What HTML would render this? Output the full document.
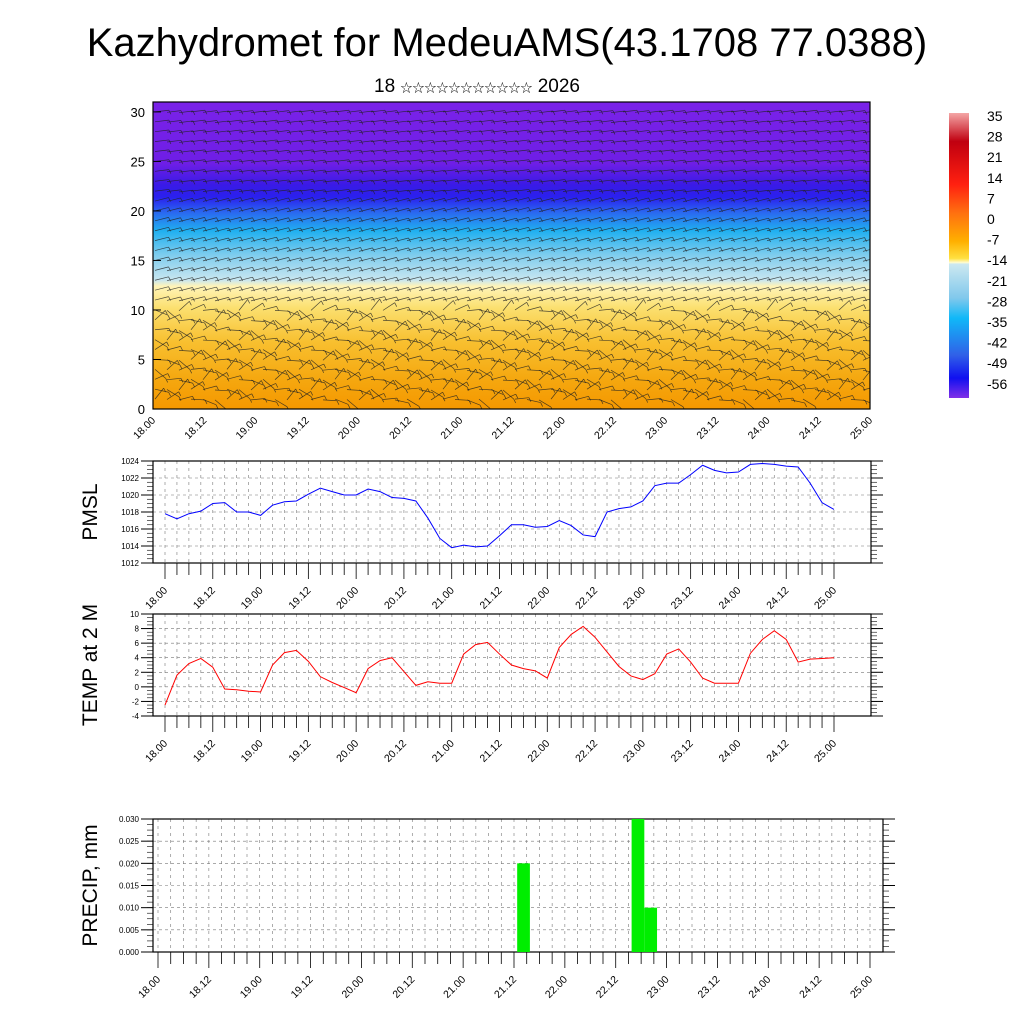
<!DOCTYPE html>
<html><head><meta charset="utf-8"><style>
html,body{margin:0;padding:0;background:#fff}
svg{display:block;font-family:"Liberation Sans","Noto Sans CJK SC",sans-serif}
</style></head><body>
<svg id="s" width="1024" height="1024" viewBox="0 0 1024 1024" xmlns="http://www.w3.org/2000/svg">
<defs>
<clipPath id="tc"><rect x="153" y="102" width="717" height="307"/></clipPath>
<linearGradient id="tg" x1="0" y1="0" x2="0" y2="1">
<stop offset="0" stop-color="#7a22e8"/><stop offset="0.2" stop-color="#6e1ee6"/>
<stop offset="0.27" stop-color="#3a1ae6"/><stop offset="0.31" stop-color="#2a20ee"/>
<stop offset="0.36" stop-color="#2a68f0"/><stop offset="0.42" stop-color="#20b0f0"/>
<stop offset="0.50" stop-color="#80cdee"/><stop offset="0.58" stop-color="#c8e6f0"/>
<stop offset="0.60" stop-color="#fff4b8"/><stop offset="0.67" stop-color="#fbe070"/>
<stop offset="0.78" stop-color="#f8c030"/><stop offset="0.9" stop-color="#f5a810"/>
<stop offset="1" stop-color="#f59800"/>
</linearGradient>
<linearGradient id="cb" x1="0" y1="0" x2="0" y2="1">
<stop offset="0" stop-color="#f4a6a6"/><stop offset="0.1" stop-color="#c00010"/>
<stop offset="0.25" stop-color="#ff2010"/><stop offset="0.35" stop-color="#ff7010"/>
<stop offset="0.45" stop-color="#ffb000"/><stop offset="0.51" stop-color="#ffe040"/>
<stop offset="0.525" stop-color="#fffcd0"/><stop offset="0.53" stop-color="#cce8f0"/>
<stop offset="0.65" stop-color="#80c8ec"/><stop offset="0.72" stop-color="#10b8f8"/>
<stop offset="0.85" stop-color="#3060e8"/><stop offset="0.93" stop-color="#1010f0"/>
<stop offset="1" stop-color="#8030e8"/>
</linearGradient>
</defs>
<text x="507" y="56" font-size="40" text-anchor="middle">Kazhydromet for MedeuAMS(43.1708 77.0388)</text>
<text x="477" y="92" font-size="19" text-anchor="middle">18 <tspan font-size="12">☆☆☆☆☆☆☆☆☆☆☆</tspan> 2026</text>
<g id="g"></g>
</svg>
<script>
const times=['18.00','18.12','19.00','19.12','20.00','20.12','21.00','21.12','22.00','22.12','23.00','23.12','24.00','24.12','25.00'];
const pmsl=[1017.8,1017.2,1017.8,1018.1,1019.0,1019.1,1018.0,1018.0,1017.6,1018.8,1019.2,1019.3,1020.1,1020.8,1020.4,1020.0,1020.0,1020.7,1020.4,1019.7,1019.6,1019.3,1017.3,1014.9,1013.8,1014.1,1013.9,1014.0,1015.2,1016.5,1016.5,1016.2,1016.3,1017.0,1016.4,1015.3,1015.1,1018.0,1018.4,1018.6,1019.3,1021.1,1021.4,1021.4,1022.4,1023.5,1022.9,1022.6,1022.7,1023.6,1023.7,1023.6,1023.4,1023.3,1021.4,1019.1,1018.3];
const temp=[-2.5,1.6,3.2,3.9,2.7,-0.3,-0.4,-0.6,-0.7,3.0,4.7,5.0,3.5,1.4,0.6,-0.1,-0.8,2.5,3.6,4.0,2.1,0.2,0.7,0.5,0.5,4.5,5.8,6.1,4.5,3.0,2.5,2.2,1.2,5.4,7.2,8.3,6.8,4.8,2.8,1.5,1.0,1.8,4.5,5.2,3.4,1.2,0.5,0.5,0.5,4.6,6.5,7.7,6.5,3.4,3.8,3.9,4.0];
const precipIdx=[29,38,39];
const precipVal=[0.02,0.03,0.01];
const pmslTicks=[1012,1014,1016,1018,1020,1022,1024];
const tempTicks=[-4,-2,0,2,4,6,8,10];
const precipTicks=[0,0.005,0.01,0.015,0.02,0.025,0.03];
const heightTicks=[0,5,10,15,20,25,30];
const cbLabels=['35','28','21','14','7','0','-7','-14','-21','-28','-35','-42','-49','-56'];

const NS='http://www.w3.org/2000/svg';
const G=document.getElementById('g');
function el(t,a,p){const e=document.createElementNS(NS,t);for(const k in a)e.setAttribute(k,a[k]);(p||G).appendChild(e);return e;}

const T={x0:153,x1:870,y0:102,y1:409,vmax:31};
const ty=v=>T.y1-(v/T.vmax)*(T.y1-T.y0);
const tx=i=>T.x0+i*(T.x1-T.x0)/56;
let bg=el('rect',{x:T.x0,y:T.y0,width:T.x1-T.x0,height:T.y1-T.y0,fill:'url(#tg)'});


const bw=el('g',{stroke:'#222','stroke-width':0.7,'stroke-opacity':0.8,fill:'none','clip-path':'url(#tc)'});


for(let r=0;r<30;r++){for(let c=0;c<60;c++){
  const x=T.x0+2+c*12,y=ty(r+1)+((c*7)%3)*0.4;
  const a=r>=21?-0.12:(r<10?-0.9+((c*13+r*7)%11)*0.16:-0.25);
  const dx=Math.cos(a)*14,dy=Math.sin(a)*14;
  el('line',{x1:x,y1:y,x2:x+dx,y2:y+dy},bw);
  el('line',{x1:x+dx,y1:y+dy,x2:x+dx+2,y2:y+dy+4},bw);
}}
let f=el('rect',{x:T.x0,y:T.y0,width:T.x1-T.x0,height:T.y1-T.y0,fill:'none',stroke:'#000','stroke-width':1.2});


heightTicks.forEach(v=>{
  el('line',{x1:T.x0,y1:ty(v),x2:T.x0+8,y2:ty(v),stroke:'#000'});
  const t=el('text',{x:T.x0-8,y:ty(v)+5,'font-size':13,'text-anchor':'end'});t.textContent=v;
  
  
});
function xlabels(xf,y,fs){times.forEach((s,k)=>{
  const x=xf(k*4);
  const t=el('text',{x:x+3,y:y,'font-size':fs,'text-anchor':'end',transform:`rotate(-45 ${x+3} ${y})`});t.textContent=s;
  
  
});}
xlabels(tx,421,10.5);

function panel(P,ticks,vals,color,name,title,ty0,fmt){
  const px=i=>P.xa+i*(P.xb-P.xa)/56;
  const py=v=>P.y1-(v-P.vmin)/(P.vmax-P.vmin)*(P.y1-P.y0);
  const g=el('g',{});
  
  
  for(let i=0;i<=56;i++){
    el('line',{x1:px(i),y1:P.y0,x2:px(i),y2:P.y1,stroke:'#777','stroke-width':0.6,'stroke-dasharray':'3,4'},g);
    el('line',{x1:px(i),y1:P.y1,x2:px(i),y2:P.y1+(i%4==0?16:12),stroke:'#000','stroke-width':0.8},g);
  }
  ticks.forEach(v=>{
    el('line',{x1:P.x0,y1:py(v),x2:P.x1,y2:py(v),stroke:'#777','stroke-width':0.6,'stroke-dasharray':'3,3'},g);
    el('line',{x1:P.x0-12,y1:py(v),x2:P.x0,y2:py(v),stroke:'#000'},g);
    el('line',{x1:P.x1,y1:py(v),x2:P.x1+12,y2:py(v),stroke:'#000'},g);
    const t=el('text',{x:P.x0-14,y:py(v)+3,'font-size':8,'text-anchor':'end'},g);t.textContent=fmt(v);
    
    
  });
  const st=(ticks[1]-ticks[0])/4;
  for(let v=P.vmin;v<=P.vmax+1e-9;v+=st){
    el('line',{x1:P.x0-6,y1:py(v),x2:P.x0,y2:py(v),stroke:'#000','stroke-width':0.6},g);
    el('line',{x1:P.x1,y1:py(v),x2:P.x1+6,y2:py(v),stroke:'#000','stroke-width':0.6},g);
  }
  el('rect',{x:P.x0,y:P.y0,width:P.x1-P.x0,height:P.y1-P.y0,fill:'none',stroke:'#000','stroke-width':1.2},g);
  if(vals){
    const pl=el('polyline',{points:vals.map((v,i)=>px(i)+','+py(v)).join(' '),fill:'none',stroke:color,'stroke-width':1},g);
    
    
  }
  const cy=(P.y0+P.y1)/2,cx=P.x0-56;
  const t=el('text',{x:cx,y:cy,'font-size':21,'text-anchor':'middle',transform:`rotate(-90 ${cx} ${cy})`},g);t.textContent=title;
  
  
  xlabels(px,ty0,10.5);
  return {px,py,g};
}
panel({x0:153,x1:871,xa:165,xb:834,y0:461,y1:563,vmin:1012,vmax:1024},pmslTicks,pmsl,'#0000ff','pmsl','PMSL',591,v=>v);
panel({x0:153,x1:871,xa:165,xb:834,y0:614,y1:716,vmin:-4,vmax:10},tempTicks,temp,'#ff0000','temp','TEMP at 2 M',744,v=>v);
const PR=panel({x0:153,x1:883,xa:158,xb:870,y0:819,y1:952,vmin:0,vmax:0.03},precipTicks,null,'#0f0','precip','PRECIP, mm',980,v=>v.toFixed(3));
const step=(870-158)/56;
precipIdx.forEach((i,k)=>{
  const r=el('rect',{x:PR.px(i)-step*0.75,y:PR.py(precipVal[k]),width:step,height:PR.py(0)-PR.py(precipVal[k]),fill:'#00ee00'},PR.g);
  
  
});

let cbr=el('rect',{x:949,y:113,width:20,height:285,fill:'url(#cb)'});


cbLabels.forEach((s,k)=>{
  const t=el('text',{x:987,y:121+k*20.6,'font-size':14});t.textContent=s;
  
  
});
</script>
</body></html>
